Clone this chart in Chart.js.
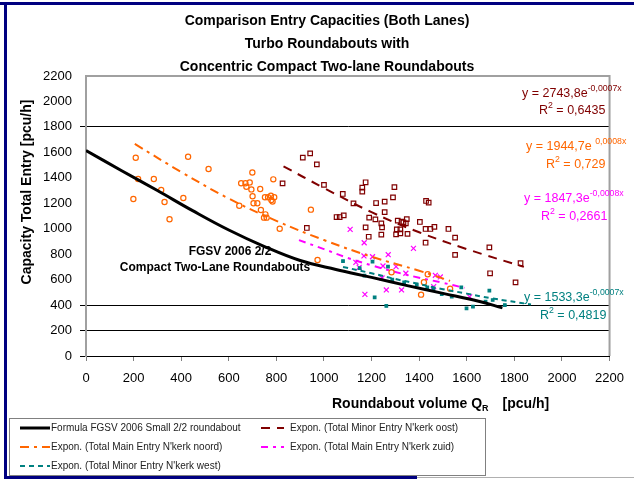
<!DOCTYPE html>
<html>
<head>
<meta charset="utf-8">
<script src="https://cdn.jsdelivr.net/npm/chart.js@4/dist/chart.umd.min.js"></script>
<style>
  body { margin: 0; background: #fff; }
  #wrap { position: relative; width: 634px; height: 479px; }
</style>
</head>
<body>
<div id="wrap"><canvas id="capChart" width="634" height="479"></canvas></div>
<script>
// axis ticks
const xTicks = [0, 200, 400, 600, 800, 1000, 1200, 1400, 1600, 1800, 2000, 2200];
const yTicks = [0, 200, 400, 600, 800, 1000, 1200, 1400, 1600, 1800, 2000, 2200];
const yGridAt = [0, 200, 400, 1800];

// measured points: Total Main Entry N'kerk noord (circles)
const noordX = [209, 429, 515, 219, 285, 316, 199, 409, 330, 351, 699, 652, 670, 688, 674, 695, 732, 700, 752, 704, 720, 644, 735, 748, 787, 765, 777, 791, 779, 784, 754, 759, 814, 945, 973, 1284, 1436, 1420, 1530, 1408];
const noordY = [1558, 1566, 1469, 1391, 1391, 1304, 1234, 1241, 1210, 1074, 1442, 1357, 1357, 1364, 1330, 1309, 1312, 1255, 1247, 1200, 1200, 1181, 1147, 1087, 1388, 1247, 1259, 1247, 1226, 1213, 1113, 1087, 1000, 1150, 754, 658, 642, 580, 528, 482];

// Total Minor Entry N'kerk oost (squares)
const oostX = [942, 911, 970, 826, 1000, 1175, 1161, 1161, 1079, 1124, 1219, 1255, 1296, 1290, 1255, 1053, 1066, 1083, 1190, 1216, 1241, 1310, 1326, 928, 1175, 1244, 1306, 1321, 1188, 1241, 1303, 1321, 1429, 1440, 1334, 1348, 1344, 1403, 1464, 1447, 1427, 1523, 1351, 1427, 1551, 1551, 1695, 1826, 1698, 1805];
const oostY = [1592, 1558, 1506, 1357, 1344, 1365, 1323, 1291, 1273, 1199, 1202, 1213, 1327, 1247, 1131, 1092, 1092, 1105, 1087, 1074, 1042, 1063, 1055, 1006, 1011, 1011, 995, 995, 937, 953, 956, 964, 1218, 1205, 1050, 1076, 1042, 1053, 1014, 998, 998, 998, 959, 890, 930, 794, 854, 729, 650, 579];

// Total Main Entry N'kerk zuid (crosses)
const zuidX = [1110, 1169, 1376, 1168, 1204, 1270, 1134, 1148, 1248, 1303, 1344, 1244, 1468, 1489, 1461, 1262, 1326, 1172, 1612];
const zuidY = [995, 890, 846, 786, 780, 796, 736, 697, 707, 702, 650, 613, 634, 621, 545, 519, 519, 484, 465];

// Total Minor Entry N'kerk west (small marks)
const westX = [1080, 1204, 1269, 1170, 1287, 1337, 1213, 1262, 1434, 1495, 1537, 1577, 1599, 1626, 1679, 1709, 1695, 1150, 1390, 1460, 1760];
const westY = [746, 741, 702, 631, 600, 579, 461, 393, 540, 487, 466, 540, 375, 388, 427, 440, 513, 690, 560, 520, 400];

// curves
const fgsvX = [0, 150, 300, 450, 600, 750, 900, 1050, 1200, 1350, 1500, 1650, 1750];
const fgsvY = [1615, 1455, 1300, 1140, 990, 860, 750, 680, 618, 553, 492, 430, 378];
const oostFitX = [830, 1000, 1200, 1400, 1600, 1840];
const oostFitY = [1490, 1320, 1130, 972, 840, 700];
const noordFitX = [205, 400, 600, 800, 1000, 1200, 1400, 1530];
const noordFitY = [1666, 1446, 1237, 1062, 911, 780, 670, 590];
const zuidFitX = [895, 1000, 1100, 1200, 1300, 1400, 1500, 1590];
const zuidFitY = [910, 840, 770, 712, 660, 615, 575, 535];
const westFitX = [1080, 1200, 1300, 1400, 1500, 1600, 1700, 1870];
const westFitY = [700, 650, 605, 565, 525, 490, 455, 405];

const MAROON = '#800000';
const ORANGE = '#ff6600';
const MAGENTA = '#ff00ff';
const TEAL = '#008080';
const FONT = '"Liberation Sans", Arial, sans-serif';

function pts(xs, ys) {
    return xs.map((x, i) => ({ x: x, y: ys[i] }));
}

function markers(xs, ys, color, style, r, fill) {
    return {
        data: pts(xs, ys),
        showLine: false,
        pointStyle: style,
        pointRadius: r,
        pointBorderWidth: 1.2,
        pointBorderColor: color,
        pointBackgroundColor: fill ? color : 'rgba(0,0,0,0)'
    };
}

function curve(label, xs, ys, color, dash, width) {
    return {
        label: label,
        data: pts(xs, ys),
        showLine: true,
        borderColor: color,
        borderWidth: width,
        borderDash: dash,
        pointRadius: 0,
        tension: 0.4,
        fill: false
    };
}

const fgsvSet = curve('Formula FGSV 2006 Small 2/2 roundabout', fgsvX, fgsvY, '#000', [], 3);
const oostSet = curve("Expon. (Total Minor Entry N'kerk oost)", oostFitX, oostFitY, MAROON, [9, 7], 2);
const noordSet = curve("Expon. (Total Main Entry N'kerk noord)", noordFitX, noordFitY, ORANGE, [9, 5, 3, 5], 2);
const zuidSet = curve("Expon. (Total Main Entry N'kerk zuid)", zuidFitX, zuidFitY, MAGENTA, [7, 5, 3, 5], 2);
const westSet = curve("Expon. (Total Minor Entry N'kerk west)", westFitX, westFitY, TEAL, [5, 4], 2);

// legend order as in the picture (two columns, row by row)
const legendItems = [
    [fgsvSet, 0, 0], [oostSet, 1, 0],
    [noordSet, 0, 1], [zuidSet, 1, 1],
    [westSet, 0, 2]
];

function superText(ctx, x, y, parts, size, color) {
    // parts: [text, isSuper]
    ctx.fillStyle = color;
    ctx.textAlign = 'left';
    ctx.textBaseline = 'middle';
    let cx = x;
    parts.forEach(p => {
        if (p[1]) {
            ctx.font = (size * 0.7) + 'px ' + FONT;
            ctx.fillText(p[0], cx, y - size * 0.4);
        } else {
            ctx.font = size + 'px ' + FONT;
            ctx.fillText(p[0], cx, y);
        }
        cx += ctx.measureText(p[0]).width;
    });
}

const decorPlugin = {
    id: 'decor',
    afterDraw(chart) {
        const ctx = chart.ctx;
        const a = chart.chartArea;
        ctx.save();

        // plot border top/right
        ctx.strokeStyle = '#a0a0a0';
        ctx.lineWidth = 2;
        ctx.beginPath();
        ctx.moveTo(a.left, a.top);
        ctx.lineTo(a.right, a.top);
        ctx.lineTo(a.right, a.bottom);
        ctx.stroke();

        // title
        ctx.fillStyle = '#000';
        ctx.textAlign = 'center';
        ctx.textBaseline = 'middle';
        ctx.font = 'bold 14px ' + FONT;
        ctx.fillText('Comparison Entry Capacities (Both Lanes)', 327, 21);
        ctx.fillText('Turbo Roundabouts with', 327, 44);
        ctx.fillText('Concentric Compact Two-lane Roundabouts', 327, 67);

        // y axis title
        ctx.save();
        ctx.translate(27, 192);
        ctx.rotate(-Math.PI / 2);
        ctx.font = 'bold 14px ' + FONT;
        ctx.fillText('Capacity Total Entry [pcu/h]', 0, 0);
        ctx.restore();

        // x axis title with subscript
        ctx.textAlign = 'left';
        ctx.font = 'bold 14px ' + FONT;
        let tx = 332;
        const ty = 404;
        ctx.fillText('Roundabout volume Q', tx, ty);
        tx += ctx.measureText('Roundabout volume Q').width;
        ctx.font = 'bold 9px ' + FONT;
        ctx.fillText('R', tx, ty + 5);
        tx += ctx.measureText('R').width + 14;
        ctx.font = 'bold 14px ' + FONT;
        ctx.fillText('[pcu/h]', tx, ty);

        // FGSV label
        ctx.textAlign = 'center';
        ctx.font = 'bold 12px ' + FONT;
        ctx.fillText('FGSV 2006 2/2', 230, 252);
        ctx.fillText('Compact Two-Lane Roundabouts', 215, 268);

        // trend equations
        const fs = 12.5;
        superText(ctx, 522, 94, [['y = 2743,8e', false], ['-0,0007x', true]], fs, MAROON);
        superText(ctx, 539, 111, [['R', false], ['2', true], [' = 0,6435', false]], fs, MAROON);
        superText(ctx, 526, 147, [['y = 1944,7e ', false], ['0,0008x', true]], fs, ORANGE);
        superText(ctx, 546, 165, [['R', false], ['2', true], [' = 0,729', false]], fs, ORANGE);
        superText(ctx, 524, 199, [['y = 1847,3e', false], ['-0,0008x', true]], fs, MAGENTA);
        superText(ctx, 541, 217, [['R', false], ['2', true], [' = 0,2661', false]], fs, MAGENTA);
        superText(ctx, 524, 298, [['y = 1533,3e', false], ['-0,0007x', true]], fs, TEAL);
        superText(ctx, 540, 316, [['R', false], ['2', true], [' = 0,4819', false]], fs, TEAL);

        // legend box
        ctx.strokeStyle = '#808080';
        ctx.lineWidth = 1;
        ctx.strokeRect(9.5, 418.5, 476, 57);
        ctx.font = '10px ' + FONT;
        ctx.textAlign = 'left';
        legendItems.forEach(item => {
            const ds = item[0];
            const col = item[1];
            const row = item[2];
            const y = 428 + row * 19;
            const x0 = col === 0 ? 20 : 261;
            const x1 = col === 0 ? 50 : 284;
            ctx.strokeStyle = ds.borderColor;
            ctx.lineWidth = ds.borderWidth;
            ctx.setLineDash(ds.borderDash);
            ctx.beginPath();
            ctx.moveTo(x0, y);
            ctx.lineTo(x1, y);
            ctx.stroke();
            ctx.setLineDash([]);
            ctx.fillStyle = '#222';
            ctx.fillText(ds.label, col === 0 ? 51 : 290, y);
        });

        // outer frame
        ctx.fillStyle = '#000080';
        ctx.fillRect(0, 2, 634, 3);
        ctx.fillRect(4, 2, 3, 477);
        ctx.fillRect(4, 476, 413, 3);
        ctx.fillStyle = '#b0b0b0';
        ctx.fillRect(417, 477, 217, 1);
        ctx.restore();
    }
};

const chart = new Chart(document.getElementById('capChart'), {
    type: 'scatter',
    data: {
        datasets: [
            fgsvSet,
            markers(westX, westY, TEAL, 'rect', 1.8, true),
            westSet,
            markers(noordX, noordY, ORANGE, 'circle', 2.6, false),
            noordSet,
            markers(zuidX, zuidY, MAGENTA, 'crossRot', 3.5, false),
            zuidSet,
            markers(oostX, oostY, MAROON, 'rect', 3.2, false),
            oostSet
        ]
    },
    options: {
        responsive: false,
        animation: false,
        layout: { padding: { top: 76, right: 15, bottom: 0, left: 0 } },
        plugins: {
            legend: { display: false },
            tooltip: { enabled: false }
        },
        scales: {
            x: {
                type: 'linear',
                min: xTicks[0],
                max: xTicks[xTicks.length - 1],
                afterBuildTicks: s => { s.ticks = xTicks.map(v => ({ value: v })); },
                afterFit: s => { s.height = 123; },
                ticks: {
                    font: { family: FONT, size: 13 },
                    color: '#000',
                    padding: 10,
                    maxRotation: 0,
                    callback: v => String(v)
                },
                grid: { drawOnChartArea: false, drawTicks: true, tickLength: 5, color: '#808080' },
                border: { color: '#000', width: 1 }
            },
            y: {
                type: 'linear',
                min: yTicks[0],
                max: yTicks[yTicks.length - 1],
                afterBuildTicks: s => { s.ticks = yTicks.map(v => ({ value: v })); },
                afterFit: s => { s.width = 86; },
                ticks: {
                    font: { family: FONT, size: 13 },
                    color: '#000',
                    padding: 8,
                    callback: v => String(v)
                },
                grid: {
                    tickLength: 6,
                    lineWidth: 1,
                    color: c => yGridAt.includes(c.tick && c.tick.value) ? '#000' : 'rgba(0,0,0,0)'
                },
                border: { color: '#a0a0a0', width: 2 }
            }
        }
    },
    plugins: [decorPlugin]
});
</script>
</body>
</html>
